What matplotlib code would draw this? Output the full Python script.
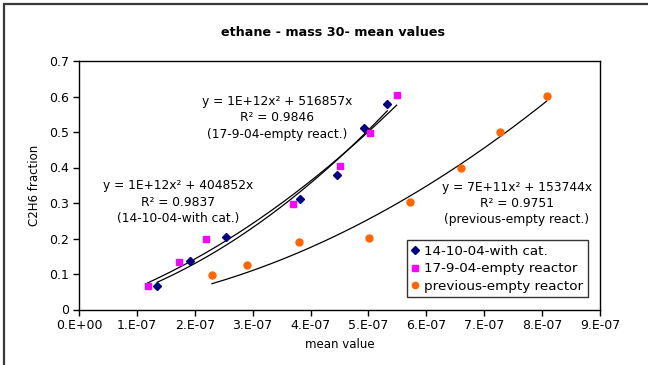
import numpy as np
import matplotlib
matplotlib.use("Agg")
import matplotlib.pyplot as plt
from matplotlib.patches import Rectangle

# --- data -------------------------------------------------------------
x_cat = [1.352e-7, 1.912e-7, 2.534e-7, 3.812e-7, 4.451e-7, 4.927e-7, 5.325e-7]
y_cat = [0.067, 0.136, 0.205, 0.311, 0.379, 0.510, 0.578]

x_empty = [1.187e-7, 1.732e-7, 2.199e-7, 3.691e-7, 4.503e-7, 5.026e-7, 5.487e-7]
y_empty = [0.066, 0.134, 0.198, 0.297, 0.405, 0.496, 0.604]

x_prev = [2.297e-7, 2.902e-7, 3.805e-7, 5.009e-7, 5.722e-7, 6.592e-7, 7.266e-7, 8.078e-7]
y_prev = [0.097, 0.125, 0.191, 0.201, 0.302, 0.399, 0.500, 0.601]

# linear coefficients reported by the trendline labels
b_cat = 404852
b_empty = 516857
b_prev = 153744

labels = ["14-10-04-with cat.", "17-9-04-empty reactor", "previous-empty reactor"]
eq_cat = "y = 1E+12x\u00b2 + 404852x\nR\u00b2 = 0.9837\n(14-10-04-with cat.)"
eq_empty = "y = 1E+12x\u00b2 + 516857x\nR\u00b2 = 0.9846\n(17-9-04-empty react.)"
eq_prev = "y = 7E+11x\u00b2 + 153744x\nR\u00b2 = 0.9751\n(previous-empty react.)"

x_ticks = [i * 1e-7 for i in range(10)]
x_ticklabels = ["0.E+00", "1.E-07", "2.E-07", "3.E-07", "4.E-07",
                "5.E-07", "6.E-07", "7.E-07", "8.E-07", "9.E-07"]
y_ticks = [0, 0.1, 0.2, 0.3, 0.4, 0.5, 0.6, 0.7]
y_ticklabels = ["0", "0.1", "0.2", "0.3", "0.4", "0.5", "0.6", "0.7"]


def quad_trend(xs, ys, b):
    """Quadratic trend through the origin with a fixed linear term."""
    xs = np.asarray(xs)
    ys = np.asarray(ys)
    a = np.sum(xs**2 * (ys - b * xs)) / np.sum(xs**4)
    xx = np.linspace(xs.min(), xs.max(), 200)
    return xx, a * xx**2 + b * xx


plt.rcParams["font.family"] = ["DejaVu Sans"]

fig = plt.figure(figsize=(6.48, 3.65), dpi=100)
W, H = 648, 365
ax = fig.add_axes([79 / W, 1 - 309.5 / H, (600 - 79) / W, (309.5 - 61) / H])

# outer chart frame
fig.patches.append(Rectangle((4 / W, -0.1), 1.2, 1 - 4 / H + 0.1,
                             transform=fig.transFigure, fill=False,
                             edgecolor="#3a3a3a", linewidth=1.6))

ax.plot(x_cat, y_cat, linestyle="none", marker="D", color="#000080",
        markersize=4.2, label=labels[0], zorder=3)
ax.plot(x_empty, y_empty, linestyle="none", marker="s", color="#FF00FF",
        markersize=5, label=labels[1], zorder=3)
ax.plot(x_prev, y_prev, linestyle="none", marker="o", color="#FF6600",
        markersize=5, label=labels[2], zorder=3)

for xs, ys, b in [(x_cat, y_cat, b_cat), (x_empty, y_empty, b_empty), (x_prev, y_prev, b_prev)]:
    tx, ty = quad_trend(xs, ys, b)
    ax.plot(tx, ty, color="black", linewidth=0.9, zorder=2)

ax.set_xlim(0, 9e-7)
ax.set_ylim(0, 0.7)
ax.set_xticks(x_ticks)
ax.set_xticklabels(x_ticklabels)
ax.set_yticks(y_ticks)
ax.set_yticklabels(y_ticklabels)
ax.tick_params(direction="out", length=4, width=1, labelsize=9, colors="black", pad=3)
for s in ax.spines.values():
    s.set_color("black")
    s.set_linewidth(1)

ax.set_xlabel("mean value", fontsize=8.5, labelpad=4)
ax.set_ylabel("C2H6 fraction", fontsize=8.5, labelpad=6)
fig.text(333 / W, 1 - 32 / H, "ethane - mass 30- mean values", ha="center",
         va="center", fontsize=9.2, fontweight="bold")

# trendline equations
def px_to_data(px, py):
    return ((px - 79) / 521 * 9e-7, (309.5 - py) / 248.5 * 0.7)

for txt, (cx, cy) in [(eq_empty, (277.5, 117.5)), (eq_cat, (178, 202)), (eq_prev, (517, 203.5))]:
    dx, dy = px_to_data(cx, cy)
    ax.text(dx, dy, txt, ha="center", va="center", fontsize=8.8,
            multialignment="center", linespacing=1.35)

leg = ax.legend(loc="lower left", bbox_to_anchor=(0.6295, 0.0503), fontsize=9.7,
                frameon=True, fancybox=False, edgecolor="black",
                handlelength=0.5, handletextpad=0.45, borderaxespad=0,
                borderpad=0.32, labelspacing=0.33, markerscale=0.9)
leg.get_frame().set_linewidth(1)

fig.savefig("out.png", dpi=100)
